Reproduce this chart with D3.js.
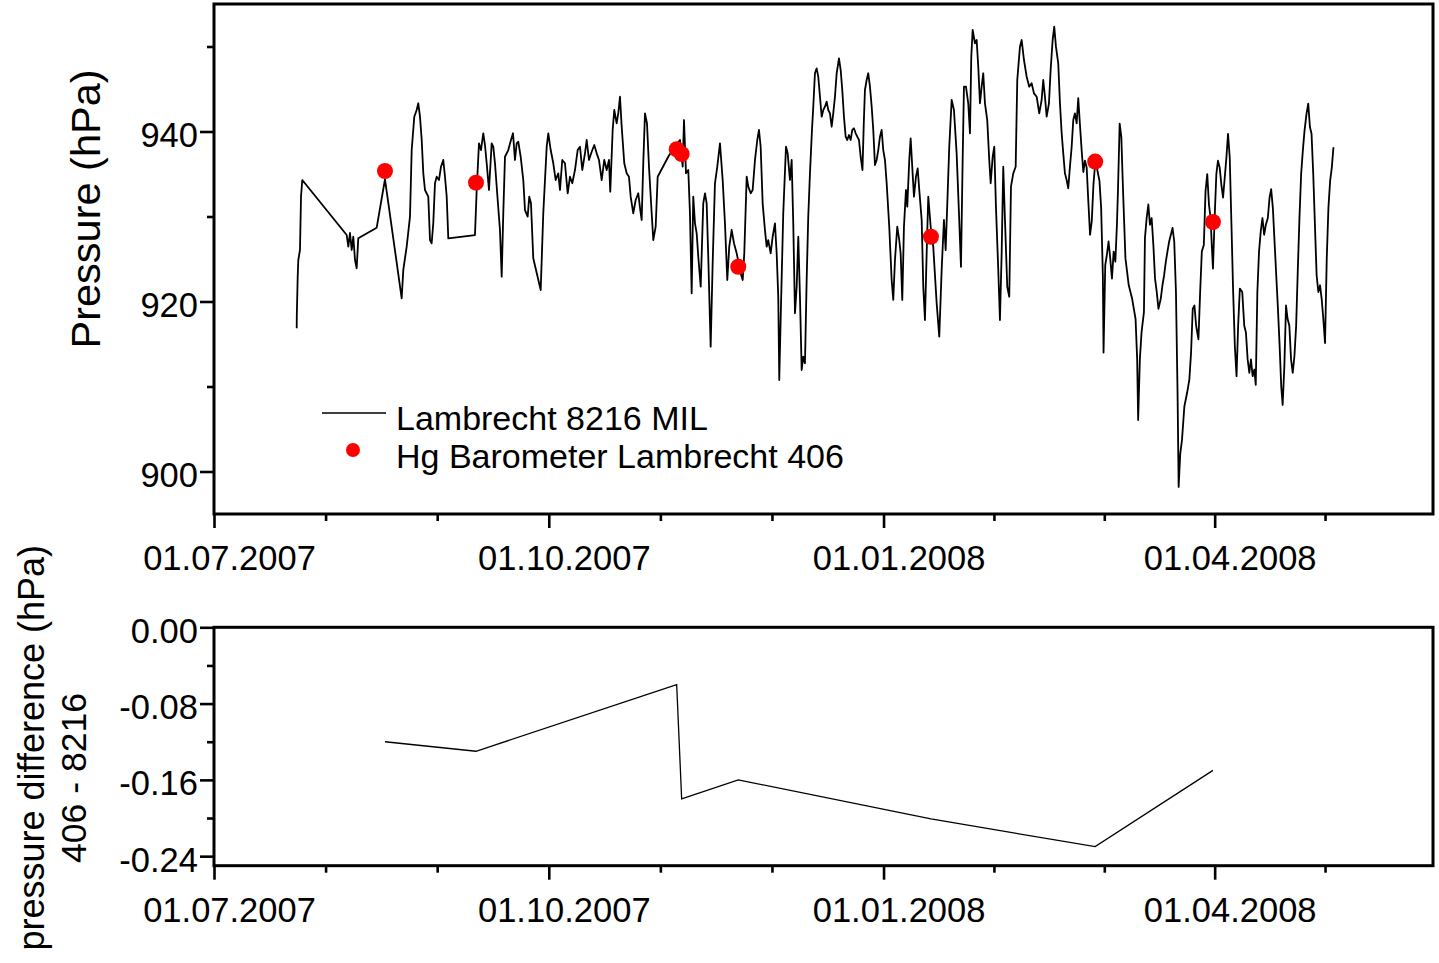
<!DOCTYPE html>
<html>
<head>
<meta charset="utf-8">
<script src="https://cdn.jsdelivr.net/npm/d3@7"></script>
<style>
  html, body { margin: 0; padding: 0; background: #fff; }
  svg { display: block; font-family: "Liberation Sans", Arial, Helvetica, sans-serif; }
</style>
</head>
<body>
<svg id="chart" width="1439" height="963"></svg>
<script>
// Readings are stored as days elapsed since 01.07.2007 00:00 UTC.
const ORIGIN = Date.UTC(2007, 6, 1);
const DAY_MS = 864e5;

// Lambrecht 8216 MIL electronic barometer record
const loggerDays = [22.73,22.75,23.00,23.17,23.63,23.91,24.26,36.47,36.91,37.37,37.84,38.28,38.75,39.21,39.65,44.71,46.99,51.58,52.02,52.95,53.86,54.33,55.04,55.70,56.14,56.61,57.08,57.52,57.98,58.89,59.36,59.82,60.26,60.73,61.20,61.83,62.38,63.01,63.48,63.95,64.39,71.72,72.19,72.82,73.37,74.00,74.47,74.94,75.57,76.31,76.75,77.22,77.96,78.59,79.06,79.50,79.97,80.87,81.62,82.17,82.71,83.18,83.62,84.28,85.00,85.46,86.20,86.64,87.11,87.74,89.78,90.49,91.43,91.87,92.53,93.24,93.90,94.61,95.08,95.71,96.45,97.20,97.83,98.46,99.20,99.94,100.58,101.21,101.95,102.42,103.05,103.79,104.51,105.17,105.80,106.54,107.25,107.91,108.55,108.90,109.56,110.00,110.66,111.10,111.57,112.04,112.75,113.41,114.04,114.51,115.22,115.88,116.60,117.15,117.53,117.97,118.44,118.99,119.54,120.28,120.72,121.38,121.93,124.84,126.68,128.06,128.80,129.16,129.71,130.34,130.80,131.27,131.71,132.18,132.65,133.09,133.75,134.46,134.93,135.39,135.83,136.49,137.04,137.67,138.31,139.05,139.79,140.42,141.06,141.60,142.26,142.90,143.64,144.13,144.74,145.29,145.73,146.39,146.83,147.49,148.03,148.67,149.30,149.77,150.23,150.78,151.41,151.88,152.32,152.98,153.53,154.16,154.63,155.07,155.34,155.81,156.44,157.19,157.65,158.28,158.75,159.19,159.66,160.13,160.57,161.03,161.50,161.94,162.41,162.87,163.31,163.78,164.33,164.69,165.15,165.62,166.06,166.53,167.00,167.44,167.90,168.37,168.81,169.28,169.74,170.18,170.65,171.12,171.75,172.22,172.66,173.12,173.59,174.03,174.50,174.96,175.41,175.87,176.34,176.78,177.25,177.71,178.21,178.57,178.89,179.36,179.80,180.27,180.74,181.18,181.64,182.11,182.55,183.02,183.48,183.92,184.39,184.86,185.57,186.23,186.67,187.14,187.77,188.32,188.70,189.15,189.61,190.16,190.52,191.07,191.45,191.89,192.36,192.91,193.38,193.82,194.48,194.92,195.38,195.85,196.29,197.03,197.66,198.60,199.31,199.97,200.60,201.07,201.62,202.06,202.72,203.35,204.09,204.73,205.28,205.74,206.10,206.65,207.28,207.75,208.11,208.49,209.12,209.59,210.03,210.50,210.96,211.40,211.87,212.50,213.05,213.44,213.99,214.43,214.89,215.53,215.99,216.46,216.90,217.37,218.00,218.55,219.02,219.65,220.31,220.75,221.49,221.96,222.59,223.33,224.04,224.70,225.34,226.08,226.79,227.45,227.89,228.36,228.83,229.46,229.92,230.47,230.91,231.38,232.01,232.48,232.95,233.39,233.85,234.32,234.76,235.23,235.70,236.14,236.60,237.07,237.51,237.98,238.44,238.91,239.35,239.82,240.26,240.75,241.22,241.69,242.24,242.79,243.34,243.80,244.27,244.46,244.93,245.37,245.84,246.30,246.77,247.24,247.70,248.14,248.42,248.89,249.35,249.82,250.48,251.39,252.32,253.26,253.70,253.97,254.44,254.90,255.56,255.84,256.31,256.77,257.21,257.68,258.15,258.61,259.08,259.55,260.18,260.65,261.11,261.58,262.02,262.49,262.96,263.42,263.89,264.36,264.80,265.10,265.54,266.01,266.67,267.41,268.04,268.51,268.97,269.44,269.91,270.54,271.01,271.47,272.02,272.49,272.96,273.43,273.87,274.25,274.53,274.99,275.46,275.90,276.37,276.83,277.30,277.77,278.23,278.67,279.14,279.61,280.08,280.54,281.01,281.45,281.92,282.58,283.13,283.59,284.06,284.53,284.97,285.43,285.90,286.29,286.73,287.19,287.66,288.13,288.59,289.06,289.61,290.08,290.52,290.99,291.45,291.92,292.39,292.85,293.29,293.68,294.15,294.61,295.05,295.52,295.99,296.45,296.92,297.39,297.83,298.30,298.76,299.23,299.70,300.25,300.71,301.18,301.62,302.09,302.55,303.02,303.49,303.96,304.40,304.86,305.33,305.80,306.26,306.73,307.20,307.64];

const loggerPressure = [916.85,918.21,922.92,924.88,926.06,932.33,934.29,927.82,926.45,928.06,926.06,927.62,924.88,923.91,927.43,928.68,934.38,920.38,923.71,926.45,929.98,937.82,941.74,942.53,943.32,941.74,939.00,935.08,933.12,932.33,927.23,926.85,929.20,933.91,934.68,934.29,935.86,936.65,934.68,932.33,927.43,927.82,933.12,938.61,937.82,939.79,938.41,936.26,933.12,938.61,938.21,936.26,931.94,928.41,922.92,930.38,937.03,937.82,939.00,939.79,936.65,938.61,938.80,937.03,934.29,930.76,929.98,932.33,931.55,925.08,921.35,930.38,938.21,939.79,937.82,936.26,934.29,935.08,933.12,936.65,936.26,932.73,934.68,933.91,935.47,937.82,938.21,935.47,937.43,939.00,936.65,937.62,938.41,937.43,936.65,934.29,936.65,935.47,936.65,932.92,940.18,942.53,940.96,942.14,944.09,940.56,936.26,935.08,934.68,932.33,930.38,931.94,932.73,930.76,929.59,936.26,942.14,940.96,935.86,930.38,927.23,928.80,934.68,937.03,938.29,939.00,935.86,941.35,935.08,935.47,930.38,920.96,932.33,929.20,928.02,925.27,921.74,931.55,932.73,931.55,925.27,914.68,924.49,933.91,935.86,938.61,934.29,929.20,922.53,926.45,928.41,926.85,925.67,924.65,923.32,922.53,925.67,934.68,933.51,932.73,933.12,936.65,939.00,940.18,938.21,931.55,928.41,926.45,927.23,925.67,927.62,929.20,925.67,920.56,910.76,919.39,930.38,938.21,937.43,934.29,936.65,929.20,918.61,921.74,927.62,920.56,911.94,913.51,912.73,922.53,929.98,935.08,940.18,942.92,946.85,947.43,946.45,944.09,941.74,942.53,942.92,943.51,942.53,942.14,940.56,942.14,944.09,946.85,948.61,947.23,944.88,941.74,939.39,939.00,939.59,939.00,940.18,940.38,939.79,939.39,939.00,937.03,935.47,940.96,944.88,946.06,946.85,945.27,942.92,940.18,936.06,936.65,937.82,939.39,940.18,937.82,936.65,933.91,928.80,922.53,920.18,924.88,928.80,927.23,925.67,920.18,928.80,933.12,931.15,936.65,939.20,935.86,932.33,934.68,935.67,933.12,929.59,921.74,917.82,925.67,932.33,928.41,926.45,919.79,915.86,923.71,929.59,926.06,932.73,938.21,943.71,942.53,937.43,930.38,924.09,936.65,945.27,945.27,943.32,939.79,948.80,951.94,950.38,950.76,947.62,943.32,945.27,946.85,943.32,941.35,936.65,933.91,937.03,938.21,931.15,923.71,917.82,925.67,935.86,929.59,921.74,920.56,933.51,935.08,935.86,946.06,949.98,950.76,948.41,946.45,945.27,945.67,944.49,944.09,942.14,943.71,946.06,944.09,941.74,943.32,947.23,950.76,952.33,949.98,948.02,943.32,939.79,937.43,935.08,934.29,933.32,935.86,938.21,941.35,942.14,940.96,943.91,940.76,937.82,935.23,936.56,935.78,931.94,927.85,929.43,933.79,936.65,935.38,934.19,931.02,923.09,913.99,924.28,925.47,927.06,925.07,922.69,925.87,924.68,929.03,933.00,940.92,939.34,933.00,925.07,921.91,920.32,917.94,913.19,906.06,913.19,916.36,918.74,927.46,929.82,931.41,929.03,929.82,926.66,922.69,921.12,919.13,920.32,921.91,923.09,924.68,925.87,927.06,927.85,928.65,927.06,921.12,909.23,898.18,902.11,903.68,907.65,909.23,910.81,913.99,919.13,919.53,917.15,915.56,921.12,925.87,926.66,933.00,934.98,931.41,929.82,926.27,923.88,929.82,934.98,936.56,935.78,933.79,932.21,934.59,936.96,939.73,936.96,929.03,921.12,914.78,911.21,917.15,921.52,921.12,917.15,916.36,913.19,911.61,913.19,911.21,912.00,910.18,921.12,925.87,928.25,929.82,927.85,929.03,929.82,932.21,933.23,931.02,927.06,923.09,919.13,914.78,910.02,907.82,912.40,919.53,917.94,917.15,913.19,911.61,913.59,917.15,923.49,929.82,934.98,937.75,940.13,942.11,943.29,940.53,939.73,934.98,929.03,923.09,921.12,921.91,920.32,917.94,915.12,925.07,931.02,934.19,935.78,938.15];

// Hg barometer Lambrecht 406 comparison readings
const hgDays = [46.99, 72.00, 127.15, 128.52, 144.08, 197.03, 242.16, 274.53];
const hgPressure = [935.35, 933.98, 937.91, 937.35, 924.09, 927.62, 936.46, 929.35];

// Difference 406 - 8216 at the comparison times (hPa)
const differenceValues = [-0.120, -0.130, -0.060, -0.180, -0.160, -0.201, -0.230, -0.150];

// Axis ticks
const dateTicks = ["2007-07-01", "2007-10-01", "2008-01-01", "2008-04-01"];
const pressureMajorTicks = [900, 920, 940];
const pressureMinorTicks = [910, 930, 950];
const differenceMajorTicks = [0, -0.08, -0.16, -0.24];
const differenceMinorTicks = [-0.04, -0.12, -0.20];

const legendLabels = ["Lambrecht 8216 MIL", "Hg Barometer Lambrecht 406"];

const toDate = d => new Date(ORIGIN + d * DAY_MS);
const parseDay = d3.utcParse("%Y-%m-%d");
const fmtDate = d3.utcFormat("%d.%m.%Y");

const svg = d3.select("#chart");

const left = 214, right = 1433;
const top1 = 4, bottom1 = 514;
const top2 = 627.3, bottom2 = 865.7;

const x = d3.scaleUtc()
  .domain([new Date(ORIGIN), new Date(Date.UTC(2008, 4, 31))])
  .range([left, right]);

const yP = d3.scaleLinear().domain([895, 955]).range([bottom1, top1]);
const yD = d3.scaleLinear().domain([-0.25, 0]).range([bottom2, top2]);

const majorDates = dateTicks.map(parseDay);
// minor ticks split each major interval in thirds
const minorDates = [];
for (let i = 0; i < majorDates.length; i++) {
  const a = majorDates[i];
  const b = majorDates[i + 1] || new Date(+a + (a - majorDates[i - 1]));
  const step = (b - a) / 3;
  for (let k = 1; k <= 2; k++) {
    const t = new Date(+a + k * step);
    if (t <= x.domain()[1]) minorDates.push(t);
  }
}

const FONT = 34.5;

function styleAxis(g) {
  g.select(".domain").remove();
  g.selectAll(".tick line").attr("stroke", "#000").attr("stroke-width", 2.6);
  g.selectAll(".tick text").attr("fill", "#000").attr("font-size", FONT);
}

function xAxes(yBase) {
  svg.append("g")
    .attr("transform", `translate(0,${yBase})`)
    .call(d3.axisBottom(x).tickValues(minorDates).tickSize(7).tickFormat(""))
    .call(styleAxis);
  const g = svg.append("g")
    .attr("transform", `translate(0,${yBase})`)
    .call(d3.axisBottom(x).tickValues(majorDates).tickSize(14).tickFormat(fmtDate))
    .call(styleAxis);
  g.selectAll(".tick text").attr("y", 56).attr("dy", 0).attr("dx", 15);
}

function yAxes(scale, majors, minors, fmt) {
  svg.append("g")
    .attr("transform", `translate(${left},0)`)
    .call(d3.axisLeft(scale).tickValues(minors).tickSize(7).tickFormat(""))
    .call(styleAxis);
  const g = svg.append("g")
    .attr("transform", `translate(${left},0)`)
    .call(d3.axisLeft(scale).tickValues(majors).tickSize(14).tickFormat(fmt))
    .call(styleAxis);
  g.selectAll(".tick text").attr("x", -16).attr("dy", 15).attr("text-anchor", "end");
}

// ---------- upper panel: absolute pressure ----------
const logger = d3.zip(loggerDays, loggerPressure);
const line = d3.line().x(d => x(toDate(d[0]))).y(d => yP(d[1]));

svg.append("path")
  .datum(logger)
  .attr("d", line)
  .attr("fill", "none")
  .attr("stroke", "#000")
  .attr("stroke-width", 1.8)
  .attr("stroke-linejoin", "round");

svg.append("g")
  .selectAll("circle")
  .data(d3.zip(hgDays, hgPressure))
  .join("circle")
  .attr("cx", d => x(toDate(d[0])))
  .attr("cy", d => yP(d[1]))
  .attr("r", 8)
  .attr("fill", "#ff0000");

svg.append("rect")
  .attr("x", left).attr("y", top1)
  .attr("width", right - left).attr("height", bottom1 - top1)
  .attr("fill", "none").attr("stroke", "#000").attr("stroke-width", 3);

xAxes(bottom1);
yAxes(yP, pressureMajorTicks, pressureMinorTicks, d3.format("d"));

svg.append("text")
  .attr("transform", "translate(100,209) rotate(-90)")
  .attr("text-anchor", "middle")
  .attr("font-size", 41.5)
  .text("Pressure (hPa)");

// legend
const legend = svg.append("g");
legend.append("line")
  .attr("x1", 322).attr("x2", 386).attr("y1", 413).attr("y2", 413)
  .attr("stroke", "#000").attr("stroke-width", 1.5);
legend.append("circle")
  .attr("cx", 353).attr("cy", 450).attr("r", 7).attr("fill", "#ff0000");
legend.selectAll("text")
  .data(legendLabels)
  .join("text")
  .attr("x", 396)
  .attr("y", (d, i) => 430 + i * 38)
  .attr("font-size", 34)
  .text(d => d);

// ---------- lower panel: difference ----------
const diffs = d3.zip(hgDays, differenceValues);
svg.append("path")
  .datum(diffs)
  .attr("d", d3.line().x(d => x(toDate(d[0]))).y(d => yD(d[1])))
  .attr("fill", "none")
  .attr("stroke", "#000")
  .attr("stroke-width", 1.3);

svg.append("rect")
  .attr("x", left).attr("y", top2)
  .attr("width", right - left).attr("height", bottom2 - top2)
  .attr("fill", "none").attr("stroke", "#000").attr("stroke-width", 3);

xAxes(bottom2);
yAxes(yD, differenceMajorTicks, differenceMinorTicks, d => d.toFixed(2));

svg.append("text")
  .attr("transform", "translate(44,545) rotate(-90)")
  .attr("text-anchor", "end")
  .attr("font-size", 36)
  .text("pressure difference (hPa)");
svg.append("text")
  .attr("transform", "translate(86,778) rotate(-90)")
  .attr("text-anchor", "middle")
  .attr("font-size", 35.5)
  .text("406 - 8216");
</script>
</body>
</html>
